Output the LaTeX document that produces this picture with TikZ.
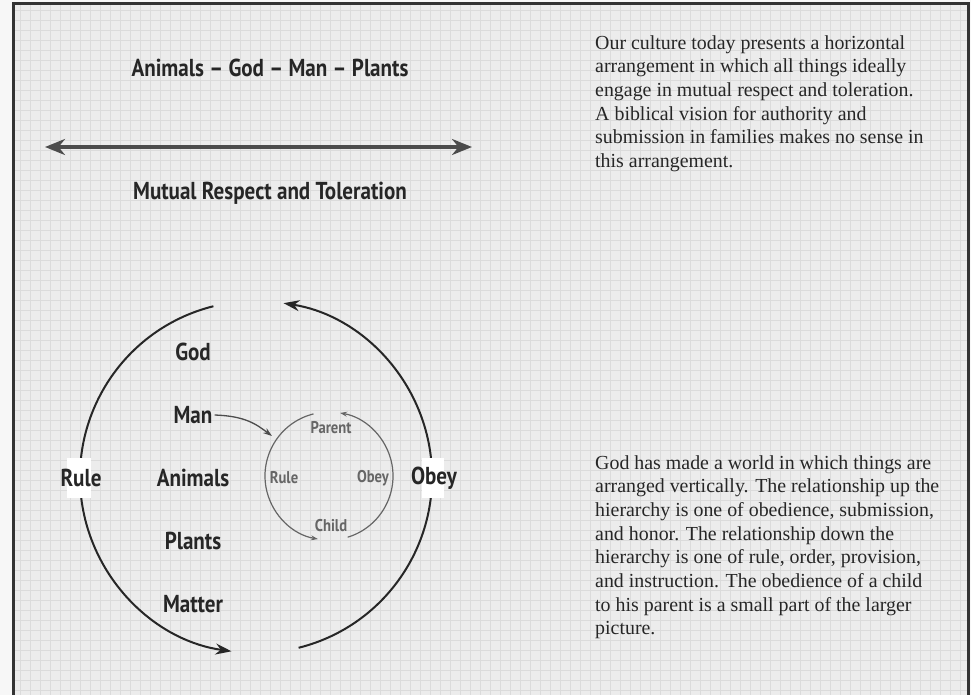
\documentclass[tikz,border=0pt]{standalone}
\usepackage{fontspec}
\setmainfont{Liberation Serif}
\newfontfamily\lblfont[FakeStretch=0.86]{PT Sans}
\usetikzlibrary{arrows.meta,positioning}

\begin{document}
\begin{tikzpicture}[x=1pt, y=-1pt,
    lbl/.style={font=\lblfont\bfseries\fontsize{24.5}{28}\selectfont, text=black!85, inner sep=0pt},
    small/.style={font=\lblfont\bfseries\fontsize{17}{20}\selectfont, text=black!60, inner sep=0pt},
    para/.style={font=\fontsize{19.9}{23.7}\selectfont, text=black!85, align=left, anchor=north west, inner sep=0pt},
    gridline/.style={gray!28, line width=0.6pt},
    bigarc/.style={line width=2pt, black!85, -{Stealth[length=16pt, width=11pt]}},
    smallarc/.style={line width=1.2pt, black!60, -{Stealth[length=7pt, width=5pt]}}]
    \useasboundingbox (0,0) rectangle (971,695);
    % paper and grid
    \fill[gray!6] (0,0) rectangle (971,695);
    \fill[gray!15] (13,4) rectangle (968,695);
    \foreach \gx in {20,30,...,960}
        \draw[gridline] (\gx,4) -- (\gx,695);
    \foreach \gy in {10,20,...,690}
        \draw[gridline] (13,\gy) -- (968,\gy);
    \draw[black!80, line width=3pt] (13,695) -- (13,4) -- (968,4) -- (968,695);

    % horizontal arrangement
    \node[lbl] (axis) at (270,68) {Animals – God – Man – Plants};
    \node[lbl] (mutual) at (270,193) {Mutual Respect and Toleration};
    \coordinate (west) at (45,147);
    \coordinate (east) at (472,147);
    \draw[line width=3.5pt, black!70, {Stealth[length=20pt, width=16pt]}-{Stealth[length=20pt, width=16pt]}] (west) -- (east);

    % vertical arrangement
    \coordinate (outer) at (256,477);
    \coordinate (inner) at (329,476);
    \draw[bigarc] ([shift={(256:176)}]outer) arc[start angle=256, end angle=98, radius=176];
    \draw[bigarc] ([shift={(76:176)}]outer) arc[start angle=76, end angle=-81, radius=176];
    \fill[white] (67,458) rectangle (91,498);
    \fill[white] (422,458) rectangle (444,498);
    \node[lbl] (rule) at (81,478) {Rule};
    \node[lbl] (obey) at (434,478) {Obey};

    \node[lbl] (god) at (193,352) {God};
    \node[lbl, below of=god, node distance=63pt] (man) {Man};
    \node[lbl, below of=man, node distance=63pt] (animals) {Animals};
    \node[lbl, below of=animals, node distance=63pt] (plants) {Plants};
    \node[lbl, below of=plants, node distance=63pt] (matter) {Matter};

    \draw[smallarc] ([shift={(256:64)}]inner) arc[start angle=256, end angle=100, radius=64];
    \draw[smallarc] ([shift={(73:64)}]inner) arc[start angle=73, end angle=-80, radius=64];
    \node[small] (parent) at (331,428) {Parent};
    \node[small] (child) at (331,526) {Child};
    \node[small] (innerrule) at (284,478) {Rule};
    \node[small] (innerobey) at (373,478) {Obey};
    \coordinate (manend) at (272,436);
    \draw[line width=1.3pt, black!70, -{Stealth[length=9pt, width=6pt]}] (man.east) ++(2,0) .. controls (245,416) and (256,424) .. (manend);

    % captions
    \node[para] (culture) at (595,35) {Our culture today presents a horizontal\\
        arrangement in which all things ideally\\
        engage in mutual respect and toleration.\\
        A biblical vision for authority and\\
        submission in families makes no sense in\\
        this arrangement.};
    \node[para] (world) at (595,455) {God has made a world in which things are\\
        arranged vertically. The relationship up the\\
        hierarchy is one of obedience, submission,\\
        and honor. The relationship down the\\
        hierarchy is one of rule, order, provision,\\
        and instruction. The obedience of a child\\
        to his parent is a small part of the larger\\
        picture.};
\end{tikzpicture}
\end{document}
